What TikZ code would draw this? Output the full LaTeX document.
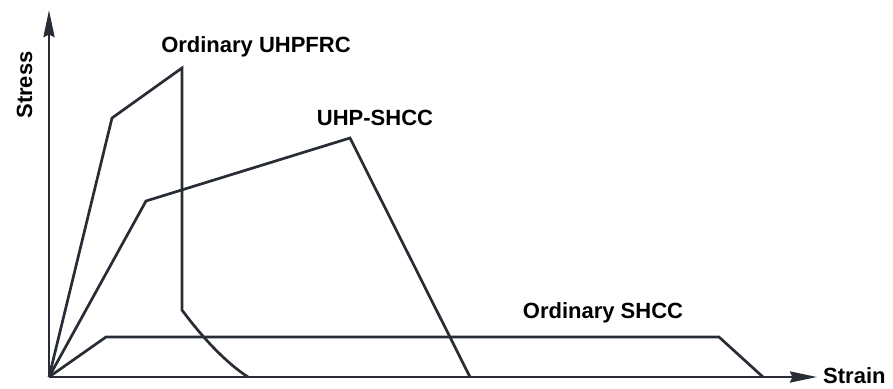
\documentclass[tikz,border=0pt]{standalone}
\usepackage{fontspec}
\setmainfont{Liberation Sans}
\usetikzlibrary{arrows.meta}

\begin{document}
\begin{tikzpicture}[x=1pt, y=-1pt]
    % Couleurs
    \definecolor{colorCourbe}{RGB}{40,44,52}

    % Styles
    \tikzset{
        courbe/.style={colorCourbe, line width=2.7pt},
        axe/.style={colorCourbe, line width=2.7pt, -{Stealth[length=27pt, width=11pt, inset=2.5pt]}},
        etiquette/.style={black, inner sep=0pt, font=\bfseries\fontsize{22}{26}\selectfont}
    }

    \useasboundingbox (0,0) rectangle (893,388);

    % Axes
    \coordinate (O) at (49,377);
    \coordinate (finY) at (49,10);
    \coordinate (finX) at (817,377);
    \draw[axe] (O) -- (finY);
    \draw[axe] (O) -- (finX);
    \node[etiquette, rotate=90, anchor=base] (stress) at (32,85) {Stress};
    \node[etiquette, anchor=base west] (strain) at (823,383) {Strain};

    % Courbe UHPFRC ordinaire
    \draw[courbe] (O) -- (112,118) -- (182,68) -- (182,310)
        .. controls (202,337) and (225,362) .. (248,377);
    \node[etiquette, anchor=base] (uhpfrc) at (256,52) {Ordinary UHPFRC};

    % Courbe UHP-SHCC
    \draw[courbe] (O) -- (146,201) -- (350,138) -- (470,377);
    \node[etiquette, anchor=base] (uhpshcc) at (375,125) {UHP-SHCC};

    % Courbe SHCC ordinaire
    \draw[courbe] (O) -- (106,337) -- (719,337) -- (763,377);
    \node[etiquette, anchor=base] (shcc) at (603,318) {Ordinary SHCC};
\end{tikzpicture}
\end{document}
